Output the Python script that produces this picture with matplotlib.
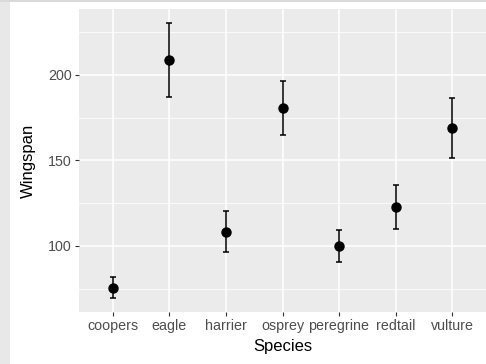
import matplotlib.pyplot as plt
import numpy as np
from matplotlib.patches import Rectangle

# mean wingspan per species, with lower / upper error bar ends
species = ['coopers', 'eagle', 'harrier', 'osprey', 'peregrine', 'redtail', 'vulture']
wingspan = [75.5, 208.5, 108.3, 180.8, 100.0, 122.7, 169.0]
lower = [69.4, 187.0, 96.6, 164.8, 90.7, 109.7, 151.4]
upper = [81.7, 230.4, 120.2, 196.6, 109.3, 135.8, 186.6]

plt.rcParams['font.family'] = ['Liberation Sans', 'DejaVu Sans']

fig = plt.figure(figsize=(4.86, 3.64), dpi=100)
ax = fig.add_axes([0.1626, 0.1429, 0.8374, 0.8324])
ax.set_facecolor('#EBEBEB')

x = np.arange(len(species))
y = np.array(wingspan)
err = np.vstack([y - np.array(lower), np.array(upper) - y])
ax.errorbar(x, y, yerr=err, fmt='o', color='black', ms=6.5,
            elinewidth=1.1, capsize=2.2, capthick=1.1, zorder=3)

# ggplot style expansion of the scales
lo, hi = min(lower), max(upper)
pad = 0.05 * (hi - lo)
ax.set_ylim(lo - pad, hi + pad)
ax.set_xlim(-0.6, len(species) - 0.4)

ax.set_xticks(x)
ax.set_xticklabels(species)
ax.set_yticks([100, 150, 200])
ax.set_yticks([75, 125, 175, 225], minor=True)
ax.grid(True, which='major', color='white', lw=1.1)
ax.grid(True, which='minor', axis='y', color='white', lw=0.55)
ax.set_axisbelow(True)
for s in ax.spines.values():
    s.set_visible(False)
ax.tick_params(which='major', length=3, width=0.8, color='#333333',
               labelcolor='#4D4D4D', labelsize=10.3, pad=2)
ax.tick_params(which='minor', length=0)

ax.set_xlabel('Species', fontsize=12, labelpad=4.5)
ax.set_ylabel('Wingspan', fontsize=12, labelpad=9)

# torn paper edge along the left and top
fig.patches.append(Rectangle((0, 0), 9.5 / 486, 1, transform=fig.transFigure,
                             facecolor='#E8E8E8', edgecolor='none', zorder=0))
fig.patches.append(Rectangle((0, 1 - 1.5 / 364), 1, 1.5 / 364, transform=fig.transFigure,
                             facecolor='#DADADA', edgecolor='none', zorder=0))

fig.savefig('out.png', dpi=100)
